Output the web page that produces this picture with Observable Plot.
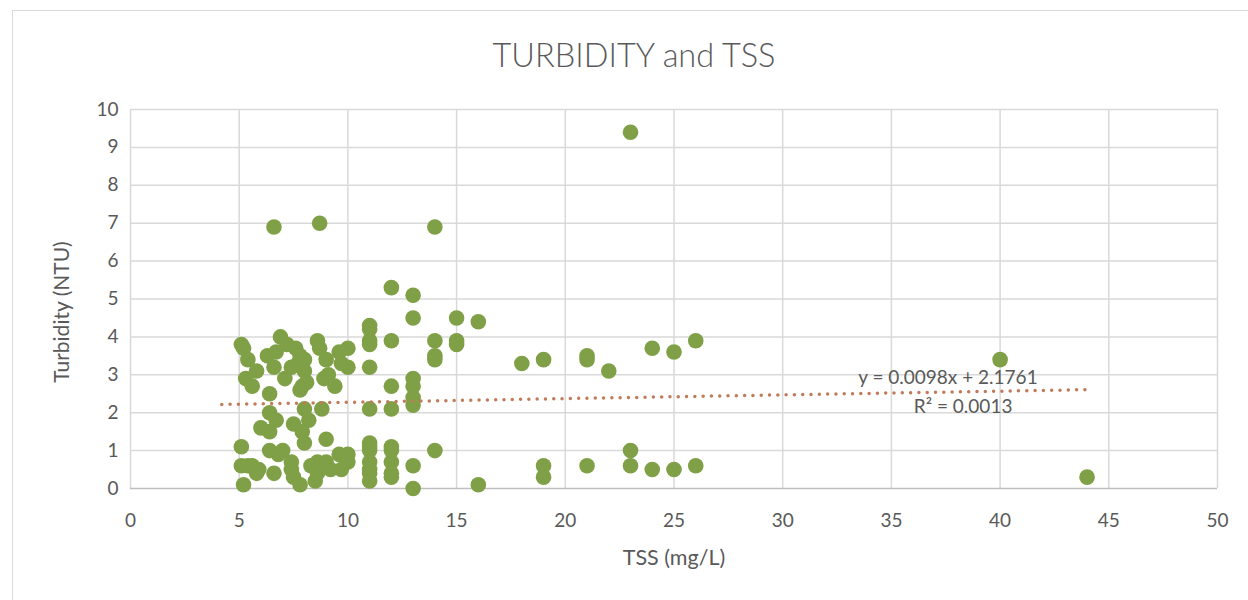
<!DOCTYPE html>
<html><head><meta charset="utf-8">
<script src="https://cdn.jsdelivr.net/npm/d3@7"></script>
<script src="https://cdn.jsdelivr.net/npm/@observablehq/plot@0.6"></script>
<style>
body{margin:0;background:#fff;font-family:Lato,"Open Sans",sans-serif;}
#wrap{position:relative;width:1248px;height:600px;overflow:hidden;background:#fff;}
#border{position:absolute;left:12px;top:10px;width:1300px;height:700px;border:1px solid #d9d9d9;box-sizing:border-box;}
#title{position:absolute;left:0;top:36px;width:1248px;text-align:center;font-size:32.5px;line-height:38px;font-weight:300;color:#595959;padding-left:20px;box-sizing:border-box;}
#chart{position:absolute;left:0;top:90px;}
</style>
</head><body>
<div id="wrap">
<div id="border"></div>
<div id="title">TURBIDITY and TSS</div>
<div id="chart"></div>
</div>
<script>
// TSS (mg/L)
const tss = [
  5.1,5.2,5.4,5.3,5.6,5.8,6.4,6.3,6.6,6.9,6.7,7.2,7.6,7.1,7.4,7.9,8.0,8.0,7.8,8.1,7.7,7.8,8.6,8.7,9.0,8.9,9.1,9.4,9.6,10.0,10.0,9.7,
  6.4,8.0,8.8,6.7,8.2,6.0,6.4,7.5,7.9,8.0,9.0,
  5.1,6.4,7.0,6.8,5.1,5.4,5.6,5.9,5.8,6.6,5.2,7.4,7.4,7.5,7.8,8.3,8.6,8.6,8.5,9.0,9.6,10.0,9.7,10.0,9.2,8.8,
  6.6,8.7,
  11,11,11,11,11,11,11,11,11,11,11,11,11,
  12,12,12,12,12,12,12,12,12,
  13,13,13,13,13,13,13,13,
  14,14,14,14,14,
  15,15,15,
  16,16,
  18,
  19,19,19,
  21,21,21,
  22,
  23,23,23,
  24,24,
  25,25,
  26,26,
  40,
  44
];
// Turbidity (NTU)
const turbidity = [
  3.8,3.7,3.4,2.9,2.7,3.1,2.5,3.5,3.2,4.0,3.6,3.8,3.7,2.9,3.2,2.7,3.4,3.1,2.6,2.8,3.3,3.5,3.9,3.7,3.4,2.9,3.0,2.7,3.6,3.7,3.2,3.3,
  2.0,2.1,2.1,1.8,1.8,1.6,1.5,1.7,1.5,1.2,1.3,
  1.1,1.0,1.0,0.9,0.6,0.6,0.6,0.5,0.4,0.4,0.1,0.7,0.5,0.3,0.1,0.6,0.7,0.4,0.2,0.7,0.9,0.9,0.5,0.7,0.5,0.6,
  6.9,7.0,
  4.3,4.2,3.9,3.8,3.2,2.1,1.2,1.1,1.0,0.7,0.5,0.4,0.2,
  5.3,3.9,2.7,2.1,1.1,1.0,0.7,0.4,0.3,
  5.1,4.5,2.9,2.7,2.4,2.2,0.6,0.0,
  6.9,3.9,3.5,3.4,1.0,
  4.5,3.9,3.8,
  4.4,0.1,
  3.3,
  3.4,0.6,0.3,
  3.5,3.4,0.6,
  3.1,
  9.4,1.0,0.6,
  3.7,0.5,
  3.6,0.5,
  3.9,0.6,
  3.4,
  0.3
];
const xTicks = [0,5,10,15,20,25,30,35,40,45,50];
const yTicks = [0,1,2,3,4,5,6,7,8,9,10];
// Linear trendline (Excel)
const slope = 0.0098;
const intercept = 2.1761;
const trendRange = [4.2, 44];
const equationText = ["y = 0.0098x + 2.1761"];
const r2Text = ["R² = 0.0013"];
const equationPos = [37.6, 2.93];
const r2Pos = [38.3, 2.14];
const yTitle = ["Turbidity (NTU)"];
const xTitle = ["TSS (mg/L)"];

const points = tss.map((x, i) => ({x, y: turbidity[i]}));
const trend = trendRange.map(x => ({x, y: slope * x + intercept}));
const txt = "#595959";

const chart = Plot.plot({
  width: 1248, height: 510,
  marginLeft: 130, marginRight: 31, marginTop: 19, marginBottom: 112,
  x: {domain: [0, 50], label: null},
  y: {domain: [0, 10], label: null},
  style: {fontFamily: "Lato, 'Open Sans', sans-serif", fontSize: "19px", color: txt, background: "transparent", overflow: "visible"},
  marks: [
    Plot.gridX(xTicks, {stroke: "#d9d9d9", strokeOpacity: 1, strokeWidth: 1.5}),
    Plot.gridY(yTicks.filter(d => d > 0), {stroke: "#d9d9d9", strokeOpacity: 1, strokeWidth: 1.5}),
    Plot.ruleY([0], {stroke: "#bfbfbf", strokeWidth: 1.5}),
    Plot.axisX(xTicks, {tickSize: 0, tickPadding: 25, fill: txt, label: null}),
    Plot.axisY(yTicks, {tickSize: 0, tickPadding: 12, fill: txt, label: null}),
    Plot.dot(points, {x: "x", y: "y", r: 7.8, fill: "#7fa046", stroke: "none"}),
    Plot.line(trend, {x: "x", y: "y", stroke: "#c07b58", strokeWidth: 3.5, strokeDasharray: "0 8.3", strokeLinecap: "round"}),
    Plot.text(equationText, {x: () => equationPos[0], y: () => equationPos[1], fill: txt, fontSize: 19, textAnchor: "middle", lineAnchor: "middle"}),
    Plot.text(r2Text, {x: () => r2Pos[0], y: () => r2Pos[1], fill: txt, fontSize: 19, textAnchor: "middle", lineAnchor: "middle"}),
    Plot.text(yTitle, {frameAnchor: "left", dx: -68, dy: 13, rotate: -90, fill: txt, fontSize: 21, textAnchor: "middle", lineAnchor: "middle"}),
    Plot.text(xTitle, {frameAnchor: "bottom", dy: 70, fill: txt, fontSize: 21.5, textAnchor: "middle", lineAnchor: "middle"})
  ]
});
document.getElementById("chart").appendChild(chart);
</script>
</body></html>
